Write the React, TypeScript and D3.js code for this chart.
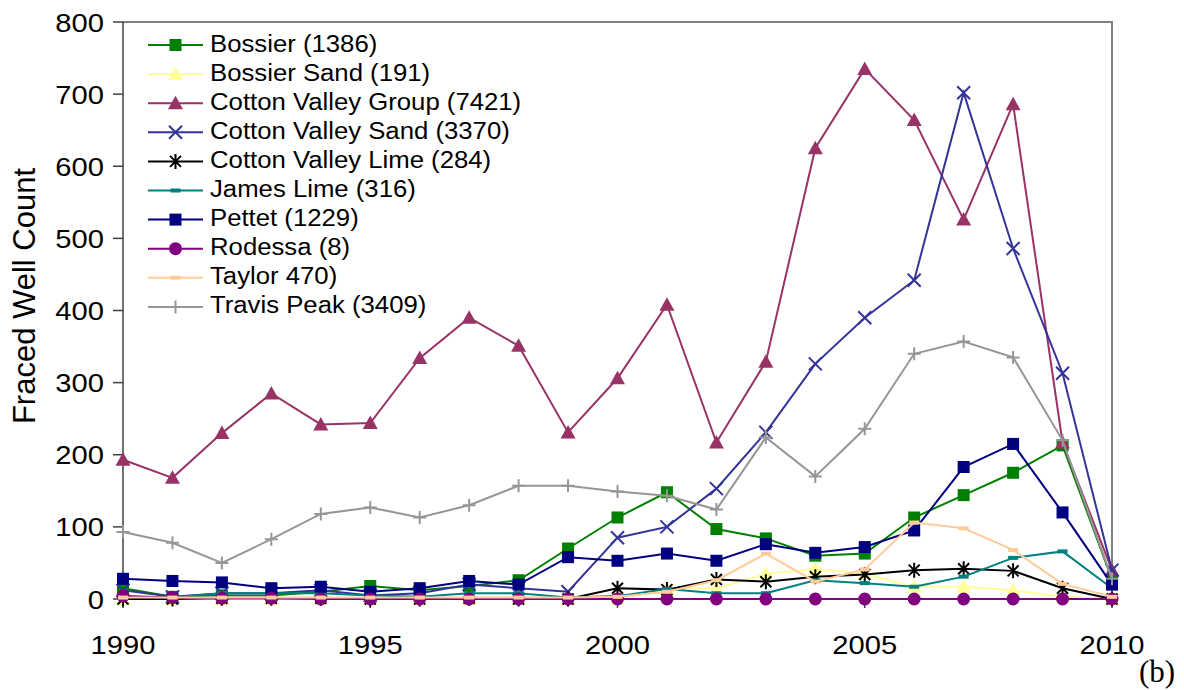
import { useMemo } from 'react';
import { line, scaleLinear } from 'd3';

const years = [
  1990, 1991, 1992, 1993, 1994, 1995, 1996, 1997, 1998, 1999, 2000, 2001, 2002,
  2003, 2004, 2005, 2006, 2007, 2008, 2009, 2010,
];
const bossier = [15, 3, 5, 5, 10, 18, 12, 18, 26, 70, 113, 148, 97, 84, 60, 63, 113, 144, 175, 213, 27];
const bossierSand = [0, 0, 0, 0, 0, 0, 0, 0, 0, 0, 0, 15, 15, 35, 42, 35, 17, 17, 12, 3, 0];
const cottonValleyGroup = [193, 168, 230, 285, 242, 244, 334, 390, 351, 231, 306, 408, 217, 329, 625, 735, 664, 526, 686, 217, 40];
const cottonValleySand = [12, 3, 8, 8, 12, 5, 8, 20, 15, 10, 85, 100, 153, 231, 326, 390, 442, 702, 486, 313, 40];
const cottonValleyLime = [0, 0, 1, 1, 1, 0, 0, 1, 0, 0, 15, 13, 27, 24, 31, 34, 40, 42, 39, 15, 0];
const jamesLime = [3, 2, 8, 8, 8, 5, 3, 8, 8, 2, 4, 14, 8, 8, 26, 22, 17, 31, 57, 66, 15];
const pettet = [28, 25, 23, 15, 17, 10, 15, 25, 20, 58, 53, 63, 53, 76, 64, 72, 95, 183, 215, 120, 20];
const rodessa = [4, 2, 1, 1, 0, 0, 0, 0, 0, 0, 0, 0, 0, 0, 0, 0, 0, 0, 0, 0, 0];
const taylor = [2, 2, 2, 2, 2, 2, 2, 2, 2, 2, 3, 10, 26, 63, 24, 41, 106, 98, 68, 21, 3];
const travisPeak = [93, 78, 50, 83, 118, 127, 113, 130, 157, 157, 149, 143, 124, 224, 170, 236, 340, 357, 335, 220, 28];

const yTicks = [0, 100, 200, 300, 400, 500, 600, 700, 800];
const xTicks = [1990, 1995, 2000, 2005, 2010];

type Marker = 'square' | 'triangle' | 'x' | 'star' | 'dash' | 'circle' | 'plus';

const seriesList: { name: string; values: number[]; color: string; marker: Marker }[] = [
  { name: 'Bossier (1386)', values: bossier, color: '#008000', marker: 'square' },
  { name: 'Bossier Sand (191)', values: bossierSand, color: '#FFFF99', marker: 'triangle' },
  { name: 'Cotton Valley Group (7421)', values: cottonValleyGroup, color: '#993366', marker: 'triangle' },
  { name: 'Cotton Valley Sand (3370)', values: cottonValleySand, color: '#333399', marker: 'x' },
  { name: 'Cotton Valley Lime (284)', values: cottonValleyLime, color: '#000000', marker: 'star' },
  { name: 'James Lime (316)', values: jamesLime, color: '#008080', marker: 'dash' },
  { name: 'Pettet (1229)', values: pettet, color: '#000080', marker: 'square' },
  { name: 'Rodessa (8)', values: rodessa, color: '#800080', marker: 'circle' },
  { name: 'Taylor 470)', values: taylor, color: '#FFCC99', marker: 'dash' },
  { name: 'Travis Peak (3409)', values: travisPeak, color: '#969696', marker: 'plus' },
];

const left = 123;
const right = 1112;
const top = 22;
const bottom = 599;
const font = 'Liberation Sans, Arial, sans-serif';
const stretch = 1.1;

const MarkerShape = ({ type, x, y, color }: { type: Marker; x: number; y: number; color: string }) => {
  if (type === 'square') return <rect x={x - 6} y={y - 6} width={12} height={12} fill={color} />;
  if (type === 'triangle')
    return <path d={`M${x},${y - 7.5}L${x + 7.5},${y + 6}L${x - 7.5},${y + 6}Z`} fill={color} />;
  if (type === 'circle') return <circle cx={x} cy={y} r={6.5} fill={color} />;
  if (type === 'dash') return <rect x={x - 5} y={y - 2} width={10} height={4} fill={color} />;
  const s = 6.5;
  let d = '';
  if (type === 'x') d = `M${x - s},${y - s}L${x + s},${y + s}M${x - s},${y + s}L${x + s},${y - s}`;
  if (type === 'plus') d = `M${x - s},${y}L${x + s},${y}M${x},${y - s}L${x},${y + s}`;
  if (type === 'star')
    d = `M${x - 5.5},${y - 5.5}L${x + 5.5},${y + 5.5}M${x - 5.5},${y + 5.5}L${x + 5.5},${y - 5.5}M${x},${y - 7.5}L${x},${y + 7.5}`;
  return <path d={d} stroke={color} strokeWidth={2} fill="none" />;
};

const Txt = ({ x, y, anchor, size, children }: any) => (
  <text
    transform={`translate(${x},${y}) scale(${stretch},1)`}
    textAnchor={anchor}
    fontSize={size}
    fontFamily={font}
    fill="#000"
  >
    {children}
  </text>
);

const App = () => {
  const xScale = useMemo(() => scaleLinear().domain([1990, 2010]).range([left, right]), []);
  const yScale = useMemo(() => scaleLinear().domain([0, 800]).range([bottom, top]), []);
  const path = useMemo(
    () =>
      line<number>()
        .x((d, i) => xScale(years[i]))
        .y((d) => yScale(d)),
    [xScale, yScale],
  );

  return (
    <svg width={1184} height={690} style={{ position: 'absolute', left: 0, top: 0, background: '#fff' }}>
      <rect width={1184} height={690} fill="#fff" />
      {/* frame */}
      <path d={`M${left},${top}H${right}V${bottom}`} stroke="#808080" strokeWidth={2} fill="none" />
      <line x1={left} x2={left} y1={top} y2={bottom} stroke="#404040" strokeWidth={1.5} />
      <line x1={left} x2={right} y1={bottom} y2={bottom} stroke="#404040" strokeWidth={1.5} />
      {yTicks.map((t) => (
        <g key={t}>
          <line x1={left - 10} x2={left} y1={yScale(t)} y2={yScale(t)} stroke="#404040" strokeWidth={1.5} />
          <Txt x={104} y={yScale(t) + 9.5} anchor="end" size={26.5}>
            {t}
          </Txt>
        </g>
      ))}
      {xTicks.map((t) => (
        <g key={t}>
          <line x1={xScale(t)} x2={xScale(t)} y1={bottom} y2={bottom + 9} stroke="#404040" strokeWidth={1.5} />
          <Txt x={xScale(t)} y={654} anchor="middle" size={26.5}>
            {t}
          </Txt>
        </g>
      ))}
      <text transform="translate(35,296) rotate(-90)" textAnchor="middle" fontSize={31} fontFamily={font}>
        Fraced Well Count
      </text>
      <text x={1139} y={682} fontSize={31} fontFamily="Liberation Serif, Times New Roman, serif">
        (b)
      </text>

      {/* series */}
      {seriesList.map((s) => (
        <g key={s.name}>
          <path d={path(s.values) ?? ''} stroke={s.color} strokeWidth={2} fill="none" />
          {s.values.map((v, i) => (
            <MarkerShape key={i} type={s.marker} x={xScale(years[i])} y={yScale(v)} color={s.color} />
          ))}
        </g>
      ))}

      {/* legend */}
      {seriesList.map((s, i) => {
        const y = 45 + i * 29.1;
        return (
          <g key={s.name}>
            <line x1={148} x2={203} y1={y} y2={y} stroke={s.color} strokeWidth={2} />
            <MarkerShape type={s.marker} x={175.5} y={y} color={s.color} />
            <Txt x={210} y={y + 6.5} anchor="start" size={23.4}>
              {s.name}
            </Txt>
          </g>
        );
      })}
    </svg>
  );
};

export default App;
